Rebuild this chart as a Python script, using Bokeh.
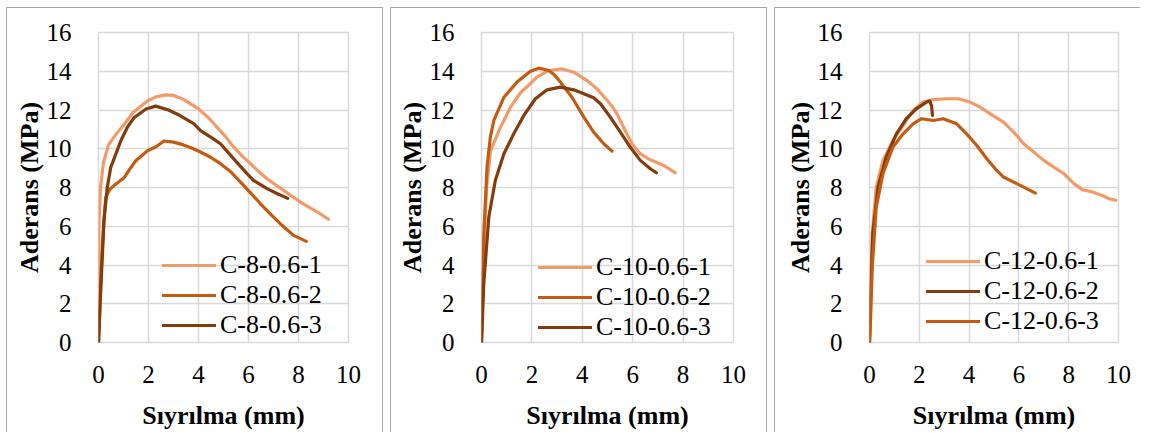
from bokeh.plotting import figure
from bokeh.layouts import row
from bokeh.models import Legend, LegendItem, FixedTicker, Range1d
from bokeh.embed import file_html
from bokeh.resources import INLINE

# ---------------- data ----------------
c8_1_x = [0, 0.02, 0.08, 0.2, 0.4, 0.62, 0.8, 1.03, 1.4, 1.96, 2.3, 2.69, 3.0, 3.4, 4.0, 4.4, 4.75, 5.1, 5.41, 5.75, 6.08, 6.4, 6.74, 7.4, 8.07, 8.74, 9.2]
c8_1_y = [0, 6.3, 8.0, 9.3, 10.2, 10.6, 10.9, 11.26, 11.9, 12.47, 12.68, 12.78, 12.75, 12.55, 12.06, 11.6, 11.1, 10.6, 10.08, 9.62, 9.23, 8.83, 8.45, 7.85, 7.25, 6.74, 6.36]
c8_2_x = [0, 0.1, 0.2, 0.29, 0.45, 0.62, 1.02, 1.25, 1.49, 1.96, 2.3, 2.62, 3.0, 3.29, 3.7, 4.08, 4.5, 4.88, 5.3, 5.68, 6.1, 6.48, 6.9, 7.27, 7.8, 8.31]
c8_2_y = [0, 3.5, 6.0, 7.5, 7.9, 8.1, 8.5, 8.95, 9.38, 9.9, 10.1, 10.4, 10.34, 10.24, 10.05, 9.83, 9.55, 9.23, 8.8, 8.28, 7.7, 7.16, 6.6, 6.13, 5.53, 5.22]
c8_3_x = [0, 0.1, 0.22, 0.35, 0.49, 0.89, 1.15, 1.42, 1.9, 2.29, 2.8, 3.28, 3.82, 4.08, 4.61, 4.88, 5.41, 5.95, 6.2, 6.74, 7.2, 7.57]
c8_3_y = [0, 3.0, 6.3, 8.0, 9.04, 10.4, 11.1, 11.6, 12.05, 12.2, 12.0, 11.7, 11.29, 10.94, 10.5, 10.26, 9.48, 8.7, 8.37, 7.94, 7.65, 7.44]

c10_1_x = [0, 0.1, 0.2, 0.36, 0.75, 1.15, 1.55, 1.81, 2.2, 2.67, 3.2, 3.66, 4.19, 4.58, 4.98, 5.2, 5.38, 5.64, 5.97, 6.3, 6.7, 7.23, 7.69]
c10_1_y = [0, 5.0, 8.0, 9.9, 11.1, 12.15, 12.9, 13.2, 13.7, 14.04, 14.12, 13.95, 13.52, 13.1, 12.5, 12.15, 11.8, 11.1, 10.26, 9.74, 9.43, 9.14, 8.76]
c10_2_x = [0, 0.09, 0.22, 0.35, 0.49, 0.89, 1.41, 1.94, 2.27, 2.67, 2.9, 3.13, 3.59, 4.06, 4.45, 4.85, 5.18]
c10_2_y = [0, 5.6, 9.05, 10.6, 11.46, 12.66, 13.44, 14.0, 14.16, 14.04, 13.8, 13.44, 12.66, 11.63, 10.86, 10.26, 9.88]
c10_3_x = [0, 0.09, 0.29, 0.55, 0.89, 1.28, 1.68, 2.14, 2.6, 3.13, 3.66, 4.06, 4.45, 4.72, 5.11, 5.51, 5.9, 6.3, 6.7, 6.94]
c10_3_y = [0, 3.04, 6.48, 8.37, 9.74, 10.77, 11.72, 12.58, 13.04, 13.18, 13.04, 12.84, 12.63, 12.32, 11.63, 10.86, 10.09, 9.4, 8.97, 8.76]

c12_1_x = [0, 0.11, 0.27, 0.54, 0.94, 1.35, 1.75, 2.15, 2.56, 3.1, 3.57, 4.04, 4.44, 4.85, 5.38, 5.79, 6.19, 6.59, 7.0, 7.4, 7.81, 8.21, 8.55, 8.95, 9.35, 9.62, 9.89]
c12_1_y = [0, 5.62, 8.02, 9.4, 10.43, 11.2, 11.98, 12.41, 12.54, 12.58, 12.58, 12.41, 12.15, 11.8, 11.37, 10.86, 10.26, 9.83, 9.4, 9.05, 8.71, 8.2, 7.89, 7.77, 7.59, 7.42, 7.34]
c12_2_x = [0, 0.04, 0.13, 0.34, 0.67, 1.08, 1.48, 1.88, 2.29, 2.42, 2.49, 2.53]
c12_2_y = [0, 2.18, 5.62, 8.02, 9.57, 10.77, 11.55, 12.06, 12.41, 12.46, 12.23, 11.72]
c12_3_x = [0, 0.05, 0.11, 0.27, 0.54, 0.94, 1.35, 1.75, 2.09, 2.56, 2.96, 3.5, 3.9, 4.31, 4.71, 5.11, 5.38, 5.79, 6.19, 6.66]
c12_3_y = [0, 1.5, 3.9, 6.99, 8.71, 10.09, 10.77, 11.29, 11.55, 11.46, 11.55, 11.29, 10.77, 10.17, 9.48, 8.88, 8.54, 8.28, 8.02, 7.71]

x_ticks = [0, 2, 4, 6, 8, 10]
y_ticks = [0, 2, 4, 6, 8, 10, 12, 14, 16]
x_title = "Sıyrılma (mm)"
y_title = "Aderans (MPa)"

LIGHT = "#F29B68"
MED = "#C55A11"
DARK = "#843C0C"

FONT = "Liberation Serif"
GRID = "#d9d9d9"
H = 425


def make_panel(width, mb_left, mb_right, series, legend_loc, label_h, border_right=True):
    p = figure(width=width, height=H, output_backend="svg", toolbar_location=None,
               x_range=Range1d(0, 10), y_range=Range1d(0, 16),
               min_border_left=mb_left, min_border_right=mb_right,
               min_border_top=24, min_border_bottom=H - 24 - 310)
    st = {"border-left": "1px solid #a6a6a6", "border-top": "1px solid #a6a6a6"}
    if border_right:
        st["border-right"] = "1px solid #a6a6a6"
    p.styles = st
    p.outline_line_color = GRID
    p.outline_line_width = 1.5
    for ax in (p.xaxis[0], p.yaxis[0]):
        ax.axis_line_color = None
        ax.major_tick_line_color = None
        ax.minor_tick_line_color = None
        ax.major_label_text_font = FONT
        ax.major_label_text_font_size = "25px"
        ax.major_label_text_color = "#000000"
        ax.axis_label_text_font = FONT
        ax.axis_label_text_font_size = "26px"
        ax.axis_label_text_font_style = "bold"
        ax.axis_label_text_color = "#000000"
    p.xaxis.ticker = FixedTicker(ticks=x_ticks)
    p.yaxis.ticker = FixedTicker(ticks=y_ticks)
    p.xaxis.axis_label = x_title
    p.yaxis.axis_label = y_title
    p.xaxis.major_label_standoff = 17
    p.yaxis.major_label_standoff = 21
    p.xaxis.axis_label_standoff = 15
    p.yaxis.axis_label_standoff = 0
    p.xgrid.ticker = FixedTicker(ticks=x_ticks)
    p.ygrid.ticker = FixedTicker(ticks=y_ticks)
    p.grid.grid_line_color = GRID
    p.grid.grid_line_width = 1.5
    p.background_fill_color = "white"
    p.border_fill_color = "white"

    items = []
    for name, xs, ys, col in series:
        r = p.line(xs, ys, line_color=col, line_width=3.2, line_join="round", line_cap="round")
        items.append(LegendItem(label=name, renderers=[r]))
    lg = Legend(items=items, location=legend_loc, padding=0, margin=0, spacing=0,
                glyph_width=54, glyph_height=label_h, label_height=label_h,
                label_standoff=4, background_fill_alpha=0, border_line_color=None,
                label_text_font=FONT, label_text_font_size="26px", label_text_color="#000000")
    p.add_layout(lg)
    return p


p1 = make_panel(377, 91, 36, [
    ("C-8-0.6-1", c8_1_x, c8_1_y, LIGHT),
    ("C-8-0.6-2", c8_2_x, c8_2_y, MED),
    ("C-8-0.6-3", c8_3_x, c8_3_y, DARK),
], (64, 2), 30)

p2 = make_panel(377, 90, 35, [
    ("C-10-0.6-1", c10_1_x, c10_1_y, LIGHT),
    ("C-10-0.6-2", c10_2_x, c10_2_y, MED),
    ("C-10-0.6-3", c10_3_x, c10_3_y, DARK),
], (57, 0), 30)

p3 = make_panel(366, 94, 23, [
    ("C-12-0.6-1", c12_1_x, c12_1_y, LIGHT),
    ("C-12-0.6-2", c12_2_x, c12_2_y, DARK),
    ("C-12-0.6-3", c12_3_x, c12_3_y, MED),
], (57, 6), 28, border_right=False)

layout = row(p1, p2, p3, spacing=7, margin=(7, 0, 0, 6))

open("out.html", "w").write(file_html(layout, INLINE))
